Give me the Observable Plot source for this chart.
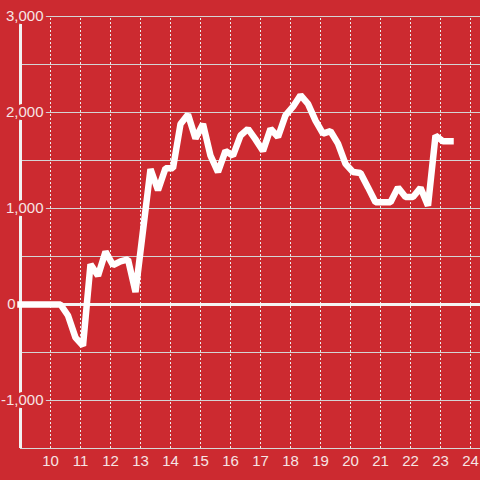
<!DOCTYPE html>
<html>
<head>
<meta charset="utf-8">
<script src="https://cdn.jsdelivr.net/npm/d3@7"></script>
<script src="https://cdn.jsdelivr.net/npm/@observablehq/plot@0.6"></script>
<style>
  html, body { margin: 0; padding: 0; background: #cc2a30; }
  #chart { width: 480px; height: 480px; }
</style>
</head>
<body>
<div id="chart"></div>
<script>
// Data
const times = ["9:00","9:05","9:20","9:35","9:50","10:05","10:20","10:35","10:50",
  "11:05","11:20","11:35","11:50","12:05","12:20","12:35","12:50",
  "13:05","13:20","13:35","13:50","14:05","14:20","14:35","14:50",
  "15:05","15:20","15:35","15:50","16:05","16:20","16:35","16:50",
  "17:05","17:20","17:35","17:50","18:05","18:20","18:35","18:50",
  "19:05","19:20","19:35","19:50","20:05","20:20","20:35","20:50",
  "21:05","21:20","21:35","21:50","22:05","22:20","22:35","22:50",
  "23:05","23:20"];
const values = [0,0,0,0,0,0,0,-115,-345,
  -430,420,300,550,410,450,470,130,
  770,1410,1190,1420,1420,1880,1980,1730,
  1880,1550,1380,1600,1550,1760,1830,1720,
  1600,1830,1745,1970,2060,2180,2090,1915,
  1780,1805,1675,1465,1380,1370,1220,1065,
  1065,1065,1220,1120,1120,1215,1030,1760,
  1700,1700];
const xTicks = [10,11,12,13,14,15,16,17,18,19,20,21,22,23,24];
const yGrid = [-1000,-500,500,1000,1500,2000,2500,3000];
const yTicks = [-1000,0,1000,2000,3000];
const yTickLabels = ["-1,000","0","1,000","2,000","3,000"];
const xDomain = [9, 24 + 1/3];
const yDomain = [-1500, 3000];

const toHour = s => { const [h, m] = s.split(":").map(Number); return h + m / 60; };
const series = times.map((t, i) => ({hour: toHour(t), value: values[i]}));
const yLabelRows = yTicks.map((v, i) => ({value: v, label: yTickLabels[i]}));

const BG = "#cc2a30";
const TXT = "#f6e4e4";
const FONT = "Liberation Sans, Arial, sans-serif";

const chart = Plot.plot({
  width: 480,
  height: 480,
  marginLeft: 20,
  marginRight: 0,
  marginTop: 16,
  marginBottom: 32,
  style: {background: BG, fontFamily: FONT, fontSize: "15px", overflow: "visible"},
  x: {domain: xDomain, axis: null},
  y: {domain: yDomain, axis: null},
  marks: [
    // horizontal grid
    Plot.ruleY(yGrid, {x1: xDomain[0], x2: xDomain[1], stroke: "#d4d4d4", strokeWidth: 1}),
    // vertical dotted grid
    Plot.ruleX(xTicks, {y1: yDomain[0], y2: 3000, stroke: "#ececec", strokeWidth: 1, strokeDasharray: "2,2"}),
    // bottom axis line
    Plot.ruleY([yDomain[0]], {x1: xDomain[0], x2: xDomain[1], stroke: "#d8d8d8", strokeWidth: 1.2}),
    // left axis line
    Plot.ruleX([xDomain[0]], {y1: yDomain[0], y2: 3000, stroke: "#f2f2f2", strokeWidth: 3}),
    // y tick labels (with halo covering axis / grid)
    Plot.text(yLabelRows.filter(d => d.value !== 0), {
      x: xDomain[0], y: "value", text: "label", textAnchor: "end", dx: 23,
      fill: TXT, stroke: BG, strokeWidth: 6, fontSize: 15
    }),
    Plot.text(yLabelRows.filter(d => d.value === 0), {
      x: xDomain[0], y: "value", text: "label", textAnchor: "end", dx: -5,
      fill: TXT, fontSize: 15
    }),
    // zero line
    Plot.ruleY([0], {x1: xDomain[0], x2: xDomain[1], stroke: "#f4f4f4", strokeWidth: 3}),
    // data line
    Plot.line(series, {x: "hour", y: "value", stroke: "#ffffff", strokeWidth: 6.5,
      strokeLinecap: "square", strokeLinejoin: "miter"}),
    // x tick labels
    Plot.text(xTicks, {x: d => d, y: yDomain[0], text: d => String(d), dy: 13,
      fill: TXT, fontSize: 15})
  ]
});
document.getElementById("chart").appendChild(chart);
</script>
</body>
</html>
